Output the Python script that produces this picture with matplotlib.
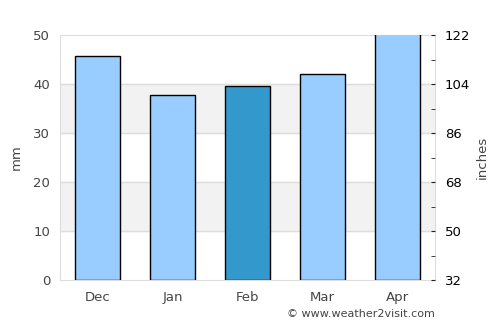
import numpy as np
import matplotlib.pyplot as plt

months = ["Dec", "Jan", "Feb", "Mar", "Apr"]
rain_mm = [45.8, 37.7, 39.7, 42.1, 52.0]
highlight = "Feb"
inch_ticks = [32, 50, 68, 86, 104, 122]
inch_minor = [41, 59, 77, 95, 113]

light = "#99ccff"
dark = "#3399cc"
text_col = "#444444"

fig = plt.figure(figsize=(5, 3.25), dpi=100)
ax = fig.add_axes([0.12, 0.138, 0.75, 0.754])

x = np.arange(len(months))
colors = [dark if m == highlight else light for m in months]

# alternating bands and grid
for lo in (10, 30):
    ax.axhspan(lo, lo + 10, color="#f2f2f2", zorder=0)
for g in range(10, 50, 10):
    ax.axhline(g, color="#dddddd", lw=1, zorder=1)

ax.bar(x, rain_mm, width=0.6, color=colors, edgecolor="black", lw=1, zorder=3)

ax.set_xlim(-0.5, len(months) - 0.5)
ax.set_ylim(0, 50)
ax.set_xticks(x, months)
ax.set_yticks(range(0, 51, 10))
ax.tick_params(axis="both", length=0, colors=text_col, labelsize=9.5, pad=7)
ax.tick_params(axis="x", pad=8)
ax.set_ylabel("mm", color=text_col, fontsize=9.5, labelpad=8)
for s in ax.spines.values():
    s.set_color("#dddddd")

ax2 = ax.twinx()
ax2.set_ylim(32, 122)
ax2.set_yticks(inch_ticks)
ax2.set_yticks(inch_minor, minor=True)
ax2.tick_params(axis="y", which="both", direction="in", length=3, color="#222222",
                labelcolor="black", labelsize=9.5, pad=7)
ax2.set_ylabel("inches", color=text_col, fontsize=9.5, labelpad=4)
for s in ax2.spines.values():
    s.set_visible(False)

fig.text(0.87, 0.033, "© www.weather2visit.com", ha="right", va="center",
         fontsize=8, color=text_col)

fig.savefig("out.png")
